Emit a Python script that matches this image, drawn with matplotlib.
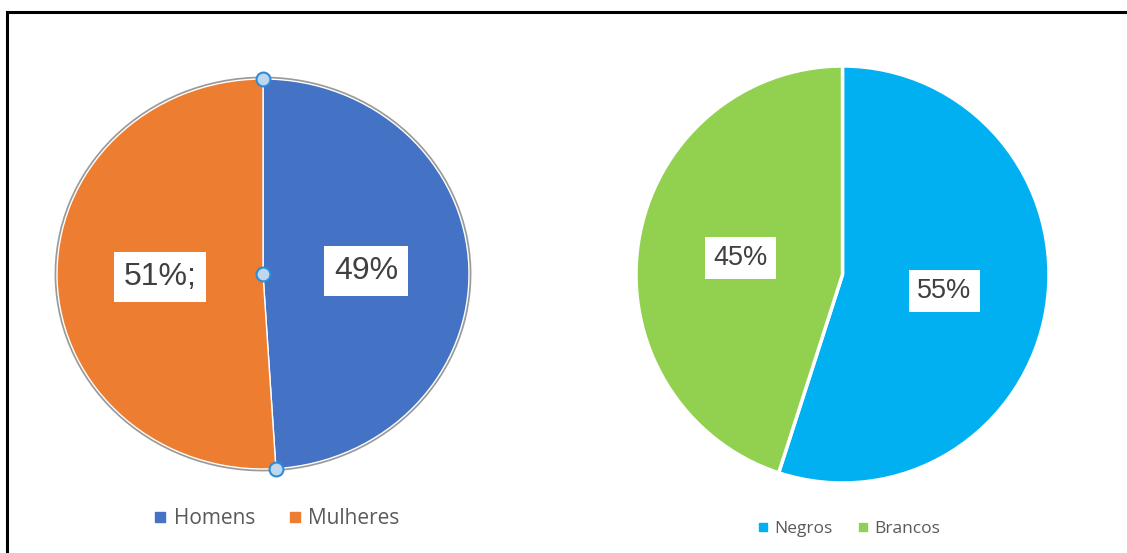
import matplotlib.pyplot as plt
import numpy as np
from matplotlib.patches import Rectangle
from matplotlib.lines import Line2D

# data
sexo_labels = ['Homens', 'Mulheres']
sexo_values = [49, 51]
sexo_text = ['49%', '51%;']
sexo_colors = ['#4472C4', '#ED7D31']

raca_labels = ['Negros', 'Brancos']
raca_values = [55, 45]
raca_text = ['55%', '45%']
raca_colors = ['#00B0F0', '#92D050']

W, H = 1127, 553
fig = plt.figure(figsize=(W / 100, H / 100), dpi=100)


def px_axes(x0, y0, x1, y1):
    # axes from pixel box (top-left origin)
    return fig.add_axes([x0 / W, 1 - y1 / H, (x1 - x0) / W, (y1 - y0) / H])


def draw_labels(ax, wedges, texts, size):
    for w, t in zip(wedges, texts):
        ang = np.deg2rad((w.theta1 + w.theta2) / 2)
        ax.text(0.5 * np.cos(ang), 0.5 * np.sin(ang), t, ha='center', va='center',
                fontsize=size, color='#404040', family='Liberation Sans',
                bbox=dict(boxstyle='square,pad=0.3', fc='white', ec='none'))


# left pie
ax1 = px_axes(57, 79, 469, 469)
ax1.pie(sexo_values, colors=sexo_colors, startangle=90, counterclock=False,
        radius=1, wedgeprops=dict(edgecolor='#9a9a9a', linewidth=3.5))
w1, _ = ax1.pie(sexo_values, colors=sexo_colors, startangle=90, counterclock=False,
                radius=1, wedgeprops=dict(edgecolor='white', linewidth=1.0))
ax1.set_aspect('auto')
ax1.set_xlim(-1.0, 1.0)
ax1.set_ylim(-1.0, 1.0)
draw_labels(ax1, w1, sexo_text, 23)

# selection handles
end = np.deg2rad(w1[0].theta1)
hx = [0, 0, np.cos(end)]
hy = [1, 0, np.sin(end)]
ax1.plot(hx, hy, 'o', ms=10, mfc='#BDD7EE', mec='#2E8BD8', mew=1.5, clip_on=False, zorder=10)

# right pie
ax2 = px_axes(636, 66, 1049, 483)
w2, _ = ax2.pie(raca_values, colors=raca_colors, startangle=90, counterclock=False,
                radius=1, wedgeprops=dict(edgecolor='white', linewidth=2.5))
ax2.set_aspect('auto')
ax2.set_xlim(-1.0, 1.0)
ax2.set_ylim(-1.0, 1.0)
draw_labels(ax2, w2, raca_text, 19.5)

# legends
h1 = [Line2D([], [], marker='s', ls='none', color=c, ms=7) for c in sexo_colors]
fig.legend(h1, sexo_labels, loc='center', bbox_to_anchor=(276 / W, 1 - 519 / H),
           ncol=2, frameon=False, handletextpad=0.25, columnspacing=1.5,
           prop=dict(family='Open Sans', size=15), labelcolor='#595959', handlelength=0.8)
h2 = [Line2D([], [], marker='s', ls='none', color=c, ms=6) for c in raca_colors]
fig.legend(h2, raca_labels, loc='center', bbox_to_anchor=(848 / W, 1 - 529 / H),
           ncol=2, frameon=False, handletextpad=0.25, columnspacing=1.4,
           prop=dict(family='Open Sans', size=12.5), labelcolor='#595959', handlelength=0.8)

# frame around the picture
fig.patches.append(Rectangle((6.5 / W, -0.1), 1.2, 1 - 12.5 / H + 0.1, transform=fig.transFigure,
                             fill=False, ec='black', lw=2.2, clip_on=False))

fig.savefig('out.png', dpi=100, facecolor='white')
